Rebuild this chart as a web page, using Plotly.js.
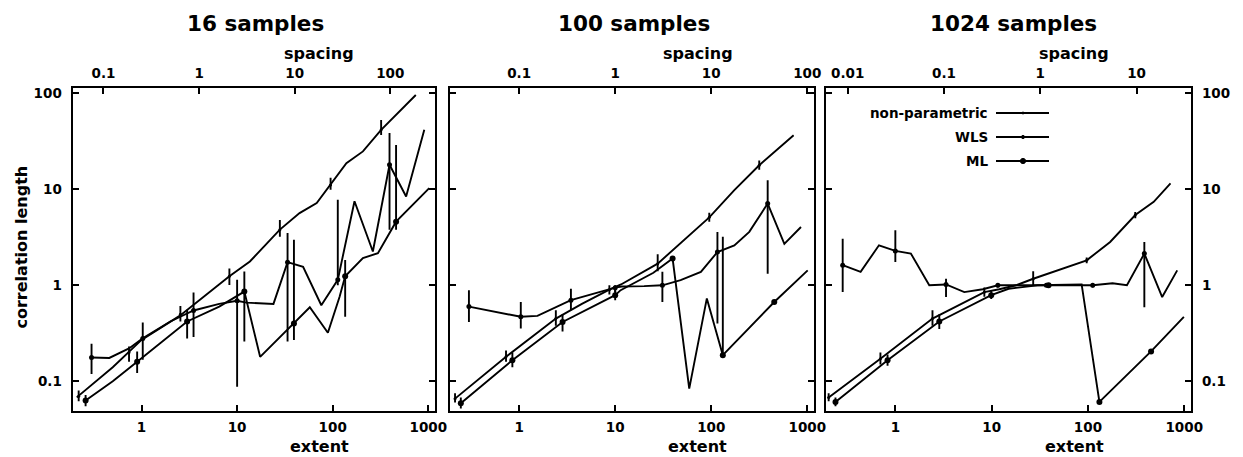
<!DOCTYPE html>
<html><head><meta charset="utf-8">
<script src="https://cdn.plot.ly/plotly-3.0.1.min.js"></script>
<style>html,body{margin:0;padding:0;background:#fff}#chart{width:1243px;height:457px}</style>
</head><body><div id="chart"></div>
<script>
// ---------- panel titles / labels ----------
const panelTitles = ['16 samples', '100 samples', '1024 samples'];
const sampleCounts = [16, 100, 1024];
const extentTicks = [1, 10, 100, 1000];
const extentTickText = ['1', '10', '100', '1000'];
const spacingTicks = [[0.1, 1, 10, 100], [0.1, 1, 10, 100], [0.01, 0.1, 1, 10]];
const spacingTickText = [['0.1', '1', '10', '100'], ['0.1', '1', '10', '100'], ['0.01', '0.1', '1', '10']];
const corrTicks = [0.1, 1, 10, 100];
const corrTickText = ['0.1', '1', '10', '100'];
const legendNames = ['non-parametric', 'WLS', 'ML'];

// ---------- 16 samples ----------
const n16_np_x = [0.21, 0.5, 1, 2.5, 8.3, 13.6, 28, 45, 68, 95, 139, 207, 321, 740];
const n16_np_y = [0.068, 0.14, 0.27, 0.48, 1.24, 1.77, 3.8, 5.65, 7.2, 11.1, 18.7, 24.8, 41.6, 96];
const n16_np_px = [0.22, 0.74, 2.55, 8.3, 28, 95, 321];
const n16_np_py = [0.07, 0.2, 0.5, 1.24, 3.8, 11.1, 41.6];
const n16_np_hi = [0.08, 0.23, 0.61, 1.5, 4.8, 13.2, 52.7];
const n16_np_lo = [0.062, 0.16, 0.42, 1.01, 3.2, 9.9, 36.8];

const n16_wls_x = [0.3, 0.46, 0.74, 1.03, 2, 3.5, 6.5, 10, 12.5, 24, 33.7, 49, 76, 113, 169, 263, 393, 586, 908];
const n16_wls_y = [0.177, 0.175, 0.22, 0.28, 0.42, 0.547, 0.64, 0.69, 0.66, 0.64, 1.74, 1.56, 0.62, 1.14, 7.5, 2.25, 18, 8.4, 41.7];
const n16_wls_px = [0.3, 1.03, 3.5, 10, 33.7, 113, 393];
const n16_wls_py = [0.177, 0.28, 0.547, 0.69, 1.74, 1.14, 18];
const n16_wls_hi = [0.246, 0.41, 0.84, 1.14, 3.5, 7.77, 38.5];
const n16_wls_lo = [0.119, 0.168, 0.29, 0.088, 0.26, 1.0, 3.8];

const n16_ml_x = [0.26, 0.5, 0.9, 3.0, 6.5, 11.9, 17.4, 32.9, 39.3, 57.6, 89, 118, 135, 207, 297, 460, 1023];
const n16_ml_y = [0.063, 0.1, 0.16, 0.42, 0.6, 0.86, 0.18, 0.34, 0.40, 0.59, 0.32, 0.76, 1.24, 1.92, 2.16, 4.6, 10.3];
const n16_ml_px = [0.26, 0.9, 3.0, 11.9, 39.3, 135, 460];
const n16_ml_py = [0.063, 0.16, 0.42, 0.86, 0.40, 1.24, 4.6];
const n16_ml_hi = [0.072, 0.205, 0.555, 1.39, 2.98, 1.84, 29];
const n16_ml_lo = [0.055, 0.122, 0.28, 0.26, 0.27, 0.47, 3.8];

// ---------- 100 samples ----------
const n100_np_x = [0.215, 0.73, 2.41, 4.5, 8.7, 11.5, 27.7, 56.8, 95.4, 174, 316, 721];
const n100_np_y = [0.066, 0.18, 0.45, 0.64, 0.90, 1.02, 1.68, 3.2, 5.1, 9.8, 17.8, 36.5];
const n100_np_px = [0.215, 0.73, 2.41, 8.7, 27.7, 95.4, 316];
const n100_np_py = [0.066, 0.18, 0.45, 0.90, 1.68, 5.1, 17.8];
const n100_np_hi = [0.075, 0.21, 0.55, 1.0, 2.1, 5.7, 20];
const n100_np_lo = [0.06, 0.16, 0.38, 0.8, 1.4, 4.6, 16];

const n100_wls_x = [0.30, 1.04, 1.55, 3.46, 10, 11.7, 20, 31, 48, 78, 116, 174, 249, 387, 577, 860];
const n100_wls_y = [0.60, 0.47, 0.48, 0.70, 0.945, 0.97, 0.98, 1.0, 1.13, 1.38, 2.22, 2.6, 3.6, 7.1, 2.7, 4.05];
const n100_wls_px = [0.30, 1.04, 3.46, 10, 31, 116, 387];
const n100_wls_py = [0.60, 0.47, 0.70, 0.945, 1.0, 2.22, 7.1];
const n100_wls_hi = [0.89, 0.67, 0.92, 1.0, 1.38, 3.6, 12.4];
const n100_wls_lo = [0.415, 0.354, 0.55, 0.85, 0.67, 0.40, 1.32];

const n100_ml_x = [0.247, 0.85, 2.83, 10, 11.4, 25, 39.6, 59, 90, 132, 453, 1010];
const n100_ml_y = [0.059, 0.166, 0.415, 0.79, 0.89, 1.35, 1.9, 0.084, 0.73, 0.187, 0.67, 1.43];
const n100_ml_px = [0.247, 0.85, 2.83, 10, 39.6, 132, 453];
const n100_ml_py = [0.059, 0.166, 0.415, 0.79, 1.9, 0.187, 0.67];
const n100_ml_hi = [0.068, 0.2, 0.5, 0.95, 1.9, 3.2, 0.67];
const n100_ml_lo = [0.052, 0.14, 0.33, 0.7, 1.9, 0.187, 0.67];

// ---------- 1024 samples ----------
const n1024_np_x = [0.203, 0.70, 2.43, 8.4, 12, 18, 27, 60, 97, 170, 310, 482, 720];
const n1024_np_y = [0.068, 0.172, 0.45, 0.85, 0.91, 1.0, 1.17, 1.55, 1.82, 2.83, 5.4, 7.4, 11.5];
const n1024_np_px = [0.203, 0.70, 2.43, 8.4, 27, 97, 310];
const n1024_np_py = [0.068, 0.172, 0.45, 0.85, 1.17, 1.82, 5.4];
const n1024_np_hi = [0.075, 0.2, 0.55, 0.95, 1.4, 1.95, 5.8];
const n1024_np_lo = [0.062, 0.15, 0.38, 0.76, 1.0, 1.7, 5.0];

const n1024_wls_x = [0.284, 0.436, 0.676, 1.0, 1.45, 2.25, 3.36, 5.2, 8.1, 11.6, 40, 112, 180, 254, 385, 590, 845];
const n1024_wls_y = [1.62, 1.38, 2.61, 2.28, 2.14, 1.0, 1.02, 0.85, 0.91, 1.0, 1.0, 1.0, 1.05, 1.0, 2.14, 0.755, 1.43];
const n1024_wls_px = [0.284, 1.0, 3.36, 11.6, 37, 112, 385];
const n1024_wls_py = [1.62, 2.28, 1.02, 1.0, 1.0, 1.0, 2.14];
const n1024_wls_hi = [3.06, 3.74, 1.17, 1.05, 1.0, 1.05, 2.83];
const n1024_wls_lo = [0.85, 1.75, 0.755, 0.95, 1.0, 0.95, 0.59];

const n1024_ml_x = [0.239, 0.83, 2.86, 9.9, 15, 30, 86, 131.5, 452, 991];
const n1024_ml_y = [0.061, 0.166, 0.42, 0.79, 0.92, 1.0, 1.02, 0.061, 0.205, 0.47];
const n1024_ml_px = [0.239, 0.83, 2.86, 9.9, 39, 131.5, 452];
const n1024_ml_py = [0.061, 0.166, 0.42, 0.79, 1.0, 0.061, 0.205];
const n1024_ml_hi = [0.068, 0.19, 0.5, 0.88, 1.0, 0.061, 0.205];
const n1024_ml_lo = [0.055, 0.145, 0.35, 0.72, 1.0, 0.061, 0.205];

// ---------- build ----------
const W = 1243, H = 457;
const px = v => v / W, py = v => 1 - v / H;
const FONT = 'DejaVu Sans';

function series(lx, ly, qx, qy, qhi, qlo, msize, xa, ya) {
  return [
    {type: 'scatter', mode: 'lines', x: lx, y: ly, xaxis: xa, yaxis: ya,
     line: {color: '#000', width: 1.9}, hoverinfo: 'skip'},
    {type: 'scatter', mode: 'markers', x: qx, y: qy, xaxis: xa, yaxis: ya,
     marker: {color: '#000', size: msize},
     error_y: {type: 'data', symmetric: false,
               array: qhi.map((h, i) => h - qy[i]),
               arrayminus: qy.map((v, i) => v - qlo[i]),
               width: 0, thickness: 1.9, color: '#000'},
     hoverinfo: 'skip'}
  ];
}

const panels = [
  [[n16_np_x, n16_np_y, n16_np_px, n16_np_py, n16_np_hi, n16_np_lo],
   [n16_wls_x, n16_wls_y, n16_wls_px, n16_wls_py, n16_wls_hi, n16_wls_lo],
   [n16_ml_x, n16_ml_y, n16_ml_px, n16_ml_py, n16_ml_hi, n16_ml_lo]],
  [[n100_np_x, n100_np_y, n100_np_px, n100_np_py, n100_np_hi, n100_np_lo],
   [n100_wls_x, n100_wls_y, n100_wls_px, n100_wls_py, n100_wls_hi, n100_wls_lo],
   [n100_ml_x, n100_ml_y, n100_ml_px, n100_ml_py, n100_ml_hi, n100_ml_lo]],
  [[n1024_np_x, n1024_np_y, n1024_np_px, n1024_np_py, n1024_np_hi, n1024_np_lo],
   [n1024_wls_x, n1024_wls_y, n1024_wls_px, n1024_wls_py, n1024_wls_hi, n1024_wls_lo],
   [n1024_ml_x, n1024_ml_y, n1024_ml_px, n1024_ml_py, n1024_ml_hi, n1024_ml_lo]]
];
const markerSizes = [3, 5, 6];

const traces = [];
panels.forEach((p, i) => {
  const xa = i === 0 ? 'x' : 'x' + (i + 1);
  const ya = i === 0 ? 'y' : 'y' + (i + 1);
  p.forEach((s, j) => traces.push(...series(s[0], s[1], s[2], s[3], s[4], s[5], markerSizes[j], xa, ya)));
  // the same non-parametric curve expressed in spacing units (extent / sqrt(n)),
  // drawn invisibly so that the top "spacing" axis is created
  const root = Math.sqrt(sampleCounts[i]);
  traces.push({type: 'scatter', mode: 'none', x: p[0][0].map(v => v / root), y: p[0][1],
    xaxis: 'x' + (i + 4), yaxis: ya, hoverinfo: 'skip', showlegend: false});
});

const xDomains = [[72.7 / W, 435 / W], [450 / W, 814 / W], [826 / W, 1191 / W]];
const yDomain = [1 - 410.5 / H, 1 - 88 / H];
const extRange = [-0.72, 3.07];
const yRange = [-1.304, 2.055];

const tickFont = {family: FONT, size: 13.5, weight: 700, color: '#000'};
const layout = {
  width: W, height: H, margin: {l: 0, r: 0, t: 0, b: 0},
  paper_bgcolor: '#fff', plot_bgcolor: '#fff', showlegend: false,
  font: {family: FONT, color: '#000'},
  annotations: [], shapes: []
};

for (let i = 0; i < 3; i++) {
  const s = i === 0 ? '' : String(i + 1);
  const n = sampleCounts[i];
  const off = Math.log10(Math.sqrt(n));
  layout['xaxis' + s] = {
    type: 'log', range: extRange, domain: xDomains[i], anchor: 'y' + s,
    tickmode: 'array', tickvals: extentTicks, ticktext: extentTickText,
    ticks: 'inside', ticklen: 6, tickwidth: 2, tickcolor: '#000',
    showline: true, linewidth: 2.2, linecolor: '#000', mirror: true,
    showgrid: false, zeroline: false, tickfont: tickFont, ticklabelstandoff: 3
  };
  layout['xaxis' + (i + 4)] = {
    type: 'log', range: [extRange[0] - off, extRange[1] - off],
    overlaying: 'x' + s, anchor: 'y' + s, side: 'top',
    tickmode: 'array', tickvals: spacingTicks[i], ticktext: spacingTickText[i],
    ticks: 'inside', ticklen: 6, tickwidth: 2, tickcolor: '#000',
    showline: false, showgrid: false, zeroline: false, tickfont: tickFont, ticklabelstandoff: 6
  };
  layout['yaxis' + s] = {
    type: 'log', range: yRange, domain: yDomain, anchor: 'x' + s,
    side: i === 2 ? 'right' : 'left',
    tickmode: 'array', tickvals: corrTicks, ticktext: corrTickText,
    ticks: 'inside', ticklen: 6, tickwidth: 2, tickcolor: '#000',
    showline: true, linewidth: 2.2, linecolor: '#000', mirror: 'ticks',
    showticklabels: i !== 1,
    showgrid: false, zeroline: false, tickfont: tickFont, ticklabelstandoff: 6
  };
  // horizontal reference line at correlation length 1
  layout.shapes.push({type: 'line', xref: 'x' + s + ' domain', x0: 0, x1: 1,
    yref: 'y' + s, y0: 0, y1: 0, line: {color: '#000', width: 1.5}});
  const tx = [0.505, 0.505, 0.515][i];
  layout.annotations.push({text: panelTitles[i], xref: 'x' + s + ' domain', x: tx, yref: 'paper', y: py(23),
    xanchor: 'center', yanchor: 'middle', showarrow: false,
    font: {family: FONT, size: 21.5, weight: 700, color: '#000'}});
  layout.annotations.push({text: 'spacing', xref: 'x' + s + ' domain', x: 0.68, yref: 'paper', y: py(53),
    xanchor: 'center', yanchor: 'middle', showarrow: false,
    font: {family: FONT, size: 16, weight: 700, color: '#000'}});
  layout.annotations.push({text: 'extent', xref: 'x' + s + ' domain', x: 0.68, yref: 'paper', y: py(446),
    xanchor: 'center', yanchor: 'middle', showarrow: false,
    font: {family: FONT, size: 16, weight: 700, color: '#000'}});
}
layout.annotations.push({text: 'correlation length', xref: 'paper', x: px(20.5), yref: 'paper', y: py(247),
  xanchor: 'center', yanchor: 'middle', textangle: -90, showarrow: false,
  font: {family: FONT, size: 16, weight: 700, color: '#000'}});

// legend drawn gnuplot-style (text, then sample)
const legY = [113, 137, 161];
const legR = [1, 1.6, 2.6];
legendNames.forEach((name, k) => {
  layout.annotations.push({text: name, xref: 'paper', x: px(990), yref: 'paper', y: py(legY[k]),
    xanchor: 'right', yanchor: 'middle', showarrow: false,
    font: {family: FONT, size: 13.5, weight: 700, color: '#000'}});
  layout.shapes.push({type: 'line', xref: 'paper', yref: 'paper', x0: px(996), x1: px(1049),
    y0: py(legY[k]), y1: py(legY[k]), line: {color: '#000', width: 1.8}});
  const r = legR[k];
  layout.shapes.push({type: 'circle', xref: 'paper', yref: 'paper', x0: px(1023 - r), x1: px(1023 + r),
    y0: py(legY[k] + r), y1: py(legY[k] - r), fillcolor: '#000', line: {color: '#000', width: 1}});
});

Plotly.newPlot('chart', traces, layout, {staticPlot: true, displayModeBar: false});
</script></body></html>
